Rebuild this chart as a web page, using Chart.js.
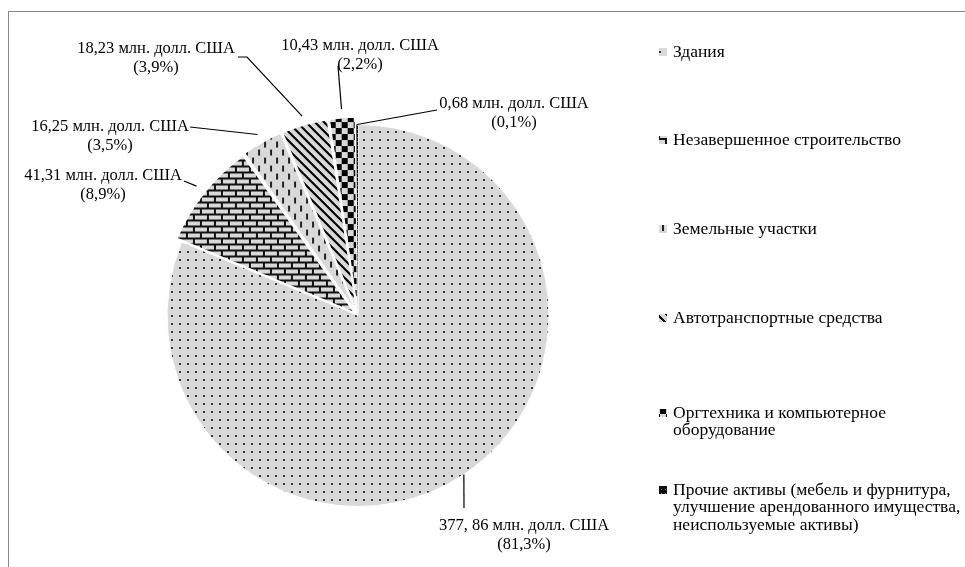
<!DOCTYPE html>
<html>
<head>
<meta charset="utf-8">
<script src="https://cdn.jsdelivr.net/npm/chart.js@4.4.1/dist/chart.umd.min.js"></script>
<style>
  html, body { margin: 0; padding: 0; background: #fff; }
  canvas { display: block; }
</style>
</head>
<body>
<canvas id="assetsChart" width="965" height="567"></canvas>
<script>
const categories = [
  "Здания",
  "Незавершенное строительство",
  "Земельные участки",
  "Автотранспортные средства",
  "Оргтехника и компьютерное оборудование",
  "Прочие активы (мебель и фурнитура, улучшение арендованного имущества, неиспользуемые активы)"
];
const legendLines = [
  ["Здания"],
  ["Незавершенное строительство"],
  ["Земельные участки"],
  ["Автотранспортные средства"],
  ["Оргтехника и компьютерное", "оборудование"],
  ["Прочие активы (мебель и фурнитура,", "улучшение арендованного имущества,", "неиспользуемые активы)"]
];
const values = [377.86, 41.31, 16.25, 18.23, 10.43, 0.68];
const valueLabels = ["377, 86", "41,31", "16,25", "18,23", "10,43", "0,68"];
const percentLabels = ["81,3%", "8,9%", "3,5%", "3,9%", "2,2%", "0,1%"];

// label placement: text centre x, first line y, leader start points
const labelLayout = [
  { x: 524, y: 526, leader: [[464, 508]] },
  { x: 103, y: 176, leader: [[184, 181]] },
  { x: 110, y: 127, leader: [[190, 127]] },
  { x: 156, y: 49, leader: [[238, 57], [247, 57]] },
  { x: 360, y: 46, leader: [[338, 66]] },
  { x: 514, y: 104, leader: [[437, 110]] }
];
const legendY = [52, 140, 229, 318, 413, 490];

const LABEL_FONT = "16.5px 'Liberation Serif', 'Times New Roman', serif";
const LEGEND_FONT = "17.5px 'Liberation Serif', 'Times New Roman', serif";
const GRAY = "#d9d9d9";

function makeTile(w, h, draw) {
  const c = document.createElement("canvas");
  c.width = w;
  c.height = h;
  const g = c.getContext("2d");
  draw(g, w, h);
  return document.createElement("canvas").getContext("2d").createPattern(c, "repeat");
}

const patterns = [
  // dots
  makeTile(8, 8, (g) => {
    g.fillStyle = GRAY; g.fillRect(0, 0, 8, 8);
    g.fillStyle = "#3a3a3a"; g.fillRect(3, 3, 2, 2);
  }),
  // bricks
  makeTile(14, 12, (g) => {
    g.fillStyle = "#111"; g.fillRect(0, 0, 14, 12);
    g.fillStyle = GRAY;
    g.fillRect(2, 2, 12, 4);
    g.fillRect(0, 8, 7, 4);
    g.fillRect(9, 8, 5, 4);
  }),
  // vertical dashes
  makeTile(12, 16, (g) => {
    g.fillStyle = GRAY; g.fillRect(0, 0, 12, 16);
    g.fillStyle = "#222";
    g.fillRect(2, 1, 2, 6);
    g.fillRect(8, 9, 2, 6);
  }),
  // diagonal stripes
  makeTile(9, 9, (g) => {
    g.fillStyle = GRAY; g.fillRect(0, 0, 9, 9);
    g.fillStyle = "#000";
    for (let y = 0; y < 9; y++) {
      for (let x = 0; x < 9; x++) {
        if (((x - y) % 9 + 9) % 9 < 3) g.fillRect(x, y, 1, 1);
      }
    }
  }),
  // checkerboard
  makeTile(12, 12, (g) => {
    g.fillStyle = GRAY; g.fillRect(0, 0, 12, 12);
    g.fillStyle = "#000";
    g.fillRect(0, 0, 6, 6);
    g.fillRect(6, 6, 6, 6);
  }),
  // dark
  makeTile(4, 4, (g) => {
    g.fillStyle = "#111"; g.fillRect(0, 0, 4, 4);
    g.fillStyle = "#777"; g.fillRect(1, 1, 1, 1);
  })
];

const labelPlugin = {
  id: "sliceLabels",
  afterDatasetsDraw(chart) {
    const ctx = chart.ctx;
    const arcs = chart.getDatasetMeta(0).data;
    ctx.save();
    ctx.strokeStyle = "#000";
    ctx.lineWidth = 1.2;
    ctx.fillStyle = "#000";
    ctx.font = LABEL_FONT;
    ctx.textAlign = "center";
    ctx.textBaseline = "middle";
    arcs.forEach((arc, i) => {
      const mid = (arc.startAngle + arc.endAngle) / 2;
      const r = arc.outerRadius + (arc.options.offset || 0);
      const px = arc.x + Math.cos(mid) * r;
      const py = arc.y + Math.sin(mid) * r;
      const lay = labelLayout[i];
      ctx.beginPath();
      ctx.moveTo(lay.leader[0][0], lay.leader[0][1]);
      for (let k = 1; k < lay.leader.length; k++) ctx.lineTo(lay.leader[k][0], lay.leader[k][1]);
      ctx.lineTo(px, py);
      ctx.stroke();
      ctx.fillText(valueLabels[i] + " млн. долл. США", lay.x, lay.y);
      ctx.fillText("(" + percentLabels[i] + ")", lay.x, lay.y + 19);
    });
    ctx.restore();
  },
  afterDraw(chart) {
    const ctx = chart.ctx;
    ctx.save();
    // outer frame
    ctx.strokeStyle = "#8a8a8a";
    ctx.lineWidth = 1;
    ctx.strokeRect(8.5, 11.5, 1000, 600);
    // legend
    ctx.font = LEGEND_FONT;
    ctx.textAlign = "left";
    ctx.textBaseline = "middle";
    legendLines.forEach((lines, i) => {
      const y = legendY[i];
      ctx.fillStyle = patterns[i];
      ctx.fillRect(659, y - 4, 8, 8);
      ctx.fillStyle = "#000";
      lines.forEach((t, k) => ctx.fillText(t, 673, y + k * 17.5));
    });
    ctx.restore();
  }
};

new Chart(document.getElementById("assetsChart"), {
  type: "pie",
  data: {
    labels: categories,
    datasets: [{
      data: values,
      backgroundColor: patterns,
      borderColor: "#fff",
      borderWidth: [1, 1.5, 1.5, 1.5, 1.5, 0],
      offset: [0, 16, 16, 16, 16, 0],
      clip: false
    }]
  },
  options: {
    responsive: false,
    devicePixelRatio: 1,
    animation: false,
    radius: 191,
    layout: { padding: { left: 138, top: 97, right: 387, bottom: 33 } },
    plugins: {
      legend: { display: false },
      tooltip: { enabled: false }
    }
  },
  plugins: [labelPlugin]
});
</script>
</body>
</html>
